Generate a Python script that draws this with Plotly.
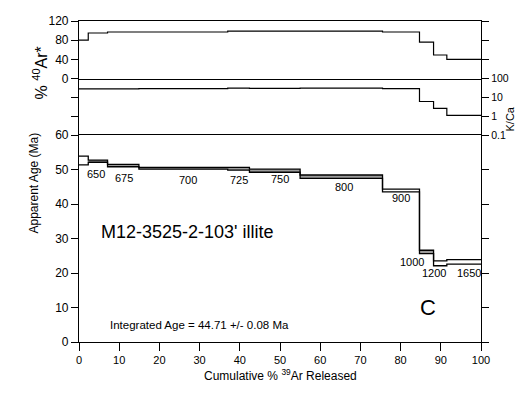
import plotly.graph_objects as go

# ---- data ----
cum39 = [0, 2.3, 7.1, 14.9, 37.0, 42.4, 55.0, 75.5, 84.7, 88.2, 91.5, 100]   # step boundaries (%39Ar)
temps = ["", "650", "675", "700", "725", "750", "800", "900", "1000", "1200", "1650"]
age = [52.6, 52.4, 51.15, 50.35, 50.2, 49.65, 47.9, 43.9, 26.1, 22.8, 23.25]
age_err = [1.25, 0.3, 0.35, 0.25, 0.4, 0.45, 0.5, 0.4, 0.5, 0.7, 0.65]
ar40 = [80, 95, 97, 97, 99, 99, 99, 97, 76, 49, 40]
kca = [28, 28, 28, 29, 31, 30, 31, 29, 6.0, 2.6, 1.1]
sample = "M12-3525-2-103' illite"
integrated = "Integrated Age = 44.71 +/- 0.08 Ma"
panel_letter = "C"

# styling
FONT = "Liberation Sans, Arial, sans-serif"
GREY = "#9a9a9a"
box_fill = ["white", GREY, GREY, GREY, GREY, GREY, GREY, "white", GREY, "white", "white"]

def stair(v):
    return list(v) + [v[-1]]

lower = [a - e for a, e in zip(age, age_err)]
upper = [a + e for a, e in zip(age, age_err)]

fig = go.Figure()
for i in range(len(age)):
    x0, x1 = cum39[i], cum39[i + 1]
    fig.add_trace(go.Scatter(x=[x0, x1, x1, x0, x0], y=[lower[i], lower[i], upper[i], upper[i], lower[i]],
                             mode="lines", line=dict(width=0), fill="toself", fillcolor=box_fill[i],
                             xaxis="x", yaxis="y", showlegend=False, hoverinfo="skip"))
line = dict(color="black", width=1.3, shape="hv")
fig.add_trace(go.Scatter(x=cum39, y=stair(lower), mode="lines", line=line,
                         xaxis="x", yaxis="y", showlegend=False, hoverinfo="skip"))
fig.add_trace(go.Scatter(x=cum39, y=stair(upper), mode="lines", line=line,
                         xaxis="x", yaxis="y", showlegend=False, hoverinfo="skip"))
fig.add_trace(go.Scatter(x=cum39, y=stair(kca), mode="lines", line=dict(color="black", width=1.2, shape="hv"),
                         xaxis="x2", yaxis="y2", showlegend=False, hoverinfo="skip"))
fig.add_trace(go.Scatter(x=cum39, y=stair(ar40), mode="lines", line=dict(color="black", width=1.2, shape="hv"),
                         xaxis="x3", yaxis="y3", showlegend=False, hoverinfo="skip"))

# step label placement (layout only)
lab_x = [None, 4.2, 11.2, 27.1, 39.9, 50.1, 65.8, 80.2, 82.9, 88.3, 96.9]
lab_y = [None, 48.6, 47.4, 47.1, 47.1, 47.2, 45.0, 41.6, 23.2, 19.9, 19.9]
ann = []
for t, lx, ly in zip(temps, lab_x, lab_y):
    if t:
        ann.append(dict(x=lx, y=ly, xref="x", yref="y", text=t, showarrow=False,
                        font=dict(size=11, color="black", family=FONT)))
ann.append(dict(x=5.0, y=31.9, xref="x", yref="y", text=sample, showarrow=False,
                xanchor="left", font=dict(size=18, color="black", family=FONT)))
ann.append(dict(x=7.2, y=4.85, xref="x", yref="y", text=integrated, showarrow=False,
                xanchor="left", font=dict(size=11.5, color="black", family=FONT)))
ann.append(dict(x=86.9, y=10.1, xref="x", yref="y", text=panel_letter, showarrow=False,
                font=dict(size=22, color="black", family=FONT)))
# axis titles (positions given in window pixels, converted to paper fractions)
W = 402.0
def px(xp):
    return (xp - 79) / W
def py(yp):
    return (342 - yp) / 321
ann.append(dict(x=px(28), y=py(45), xref="paper", yref="paper",
                text="% <sup>40</sup>Ar*", textangle=-90, showarrow=False,
                font=dict(size=16, color="black", family=FONT)))
ann.append(dict(x=px(24), y=py(236), xref="paper", yref="paper",
                text="Apparent Age (Ma)", textangle=-90, showarrow=False,
                font=dict(size=12, color="black", family=FONT)))
ann.append(dict(x=px(517), y=py(105), xref="paper", yref="paper",
                text="K/Ca", textangle=-90, showarrow=False,
                font=dict(size=11, color="black", family=FONT)))
ann.append(dict(x=px(280), y=py(385), xref="paper", yref="paper",
                text="Cumulative % <sup>39</sup>Ar Released", showarrow=False,
                font=dict(size=12, color="black", family=FONT)))

ax_common = dict(showgrid=False, zeroline=False, linecolor="black",
                 linewidth=1.2, tickcolor="black", tickwidth=1.2, automargin=False)
d1 = py(135)
d2 = py(78.5)

# page body adds an 8px offset; figure is sized so the plot area lands at x 79-481, y 21-342
fig.update_layout(
    template="none",
    width=520, height=387,
    margin=dict(l=71, r=47, t=13, b=53, autoexpand=False),
    paper_bgcolor="white", plot_bgcolor="white",
    font=dict(family=FONT, color="black"),
    annotations=ann,
    xaxis=dict(domain=[0, 1], range=[0, 100], anchor="y", tickvals=list(range(0, 101, 10)),
               ticks="outside", ticklen=8, showline=True, mirror=True, tickfont=dict(size=11), **ax_common),
    xaxis2=dict(domain=[0, 1], matches="x", anchor="y2", showticklabels=False, ticks="",
                showline=False, **ax_common),
    xaxis3=dict(domain=[0, 1], matches="x", anchor="y3", showticklabels=False, ticks="",
                showline=True, mirror=True, **ax_common),
    yaxis=dict(domain=[0, d1], range=[0, 60], anchor="x", tickvals=list(range(0, 61, 10)),
               ticks="outside", ticklen=7, showline=True, mirror="ticks", tickfont=dict(size=12), **ax_common),
    yaxis2=dict(domain=[d1, d2], type="log", range=[-1, 2], anchor="x2", side="right",
                tickvals=[0.1, 1, 10, 100], ticktext=["0.1", "1", "10", "100"],
                ticks="outside", ticklen=7, showline=True, mirror="ticks", tickfont=dict(size=10.5), **ax_common),
    yaxis3=dict(domain=[d2, 1], range=[0, 120], anchor="x3", tickvals=[0, 40, 80, 120],
                ticks="outside", ticklen=7, showline=True, mirror="ticks", tickfont=dict(size=12), **ax_common),
)

fig.write_html("out.html")
